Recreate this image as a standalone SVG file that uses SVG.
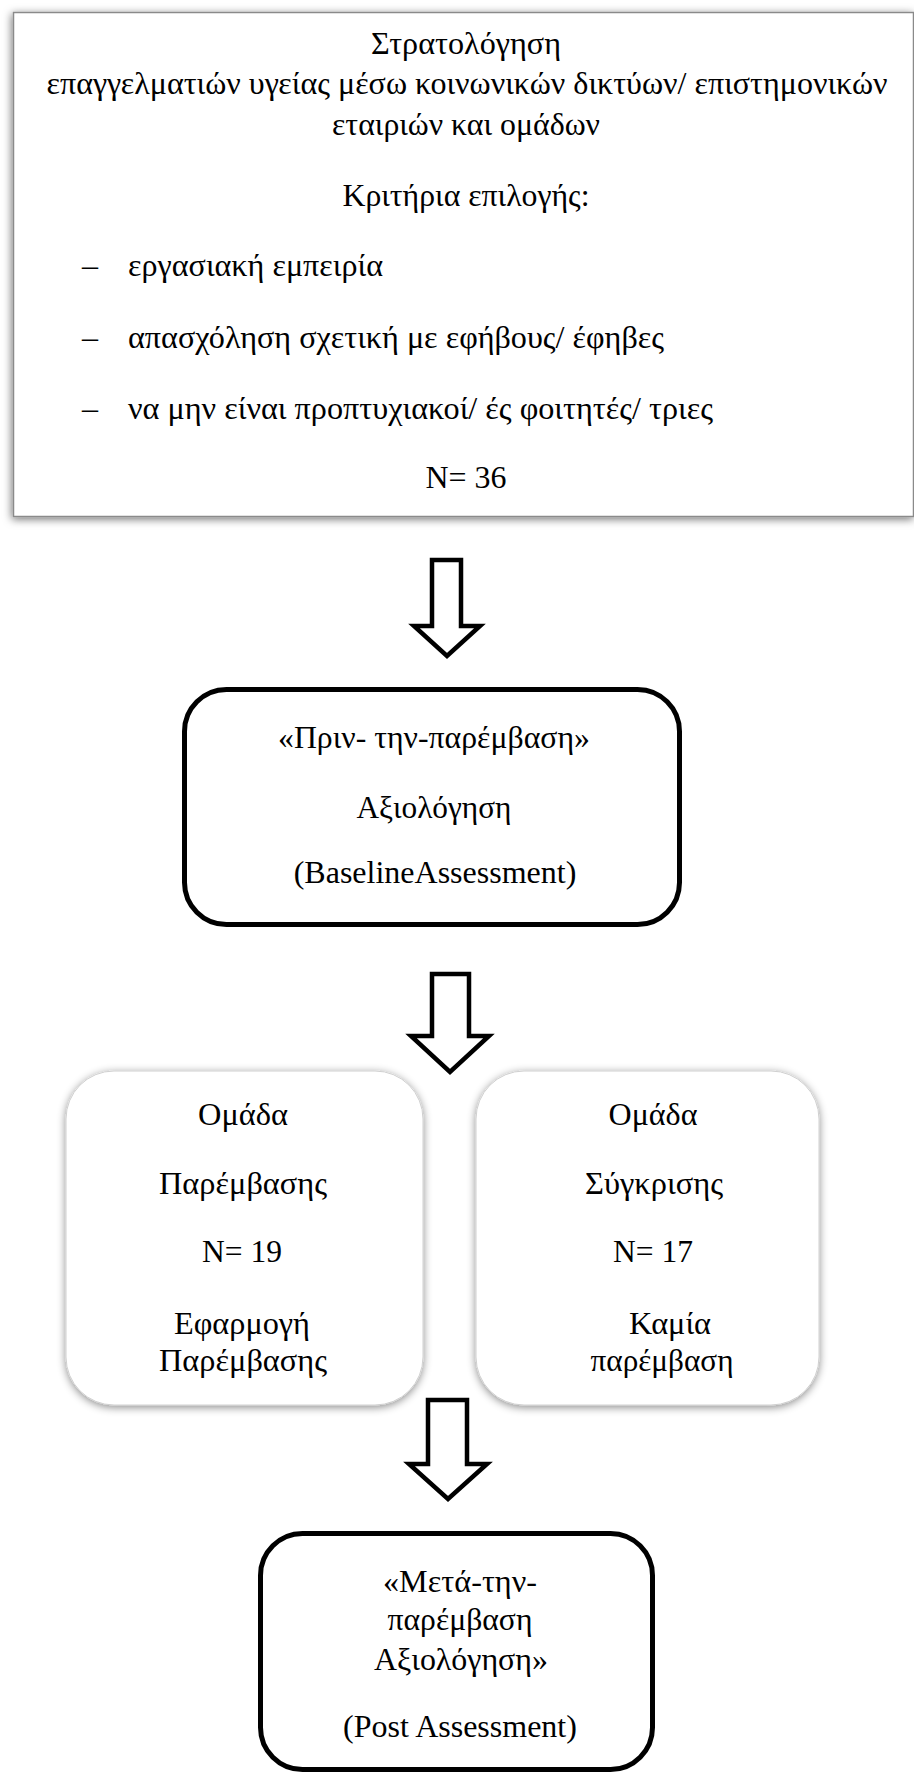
<svg xmlns="http://www.w3.org/2000/svg" width="914" height="1776" viewBox="0 0 914 1776">
<defs>
<filter id="shTop" x="-5%" y="-5%" width="110%" height="110%">
<feDropShadow dx="-1" dy="2" stdDeviation="4" flood-color="#000" flood-opacity="0.55"/>
</filter>
<filter id="shSoft" x="-10%" y="-10%" width="120%" height="120%">
<feDropShadow dx="0" dy="2" stdDeviation="4" flood-color="#000" flood-opacity="0.45"/>
</filter>
</defs>
<style>
text{font-family:"Liberation Serif","Noto Serif","DejaVu Serif","FreeSerif","Times New Roman",serif;font-size:32px;fill:#000}
.c{text-anchor:middle}
.box{fill:#fff;stroke:#000;stroke-width:5}
.soft{fill:#fff;stroke:#d0d0d0;stroke-width:1;filter:url(#shSoft)}
.arrow{fill:#fff;stroke:#000;stroke-width:4.5;stroke-linejoin:miter}
</style>
<rect width="914" height="1776" fill="#fff"/>

<g id="recruitment">
<rect x="13.5" y="12.5" width="900" height="504" fill="#fff" stroke="#8a8a8a" stroke-width="1.5" filter="url(#shTop)"/>
<text class="c" x="466" y="54" textLength="190" lengthAdjust="spacingAndGlyphs">Στρατολόγηση</text>
<text class="c" x="467" y="94" font-size="31" textLength="841" lengthAdjust="spacingAndGlyphs">επαγγελματιών υγείας μέσω κοινωνικών δικτύων/ επιστημονικών</text>
<text class="c" x="466" y="135" textLength="268" lengthAdjust="spacingAndGlyphs">εταιριών και ομάδων</text>
<text class="c" x="466" y="206" textLength="247" lengthAdjust="spacingAndGlyphs">Κριτήρια επιλογής:</text>
<text x="82" y="276">–</text>
<text x="128" y="276" textLength="255" lengthAdjust="spacingAndGlyphs">εργασιακή εμπειρία</text>
<text x="82" y="348">–</text>
<text x="128" y="348" textLength="536" lengthAdjust="spacingAndGlyphs">απασχόληση σχετική με εφήβους/ έφηβες</text>
<text x="82" y="419">–</text>
<text x="128" y="419" textLength="585" lengthAdjust="spacingAndGlyphs">να μην είναι προπτυχιακοί/ ές φοιτητές/ τριες</text>
<text class="c" x="466" y="488" textLength="81" lengthAdjust="spacingAndGlyphs">Ν= 36</text>
</g>

<g id="baseline">
<rect class="box" x="184.5" y="689.5" width="495" height="235" rx="42" ry="42"/>
<text class="c" x="434" y="748" textLength="312" lengthAdjust="spacingAndGlyphs">«Πριν- την-παρέμβαση»</text>
<text class="c" x="434" y="818" textLength="155" lengthAdjust="spacingAndGlyphs">Αξιολόγηση</text>
<text class="c" x="435" y="883">(BaselineAssessment)</text>
</g>

<g id="intervention">
<rect class="soft" x="66" y="1071" width="357" height="334" rx="48" ry="48"/>
<text class="c" x="243" y="1125" textLength="90" lengthAdjust="spacingAndGlyphs">Ομάδα</text>
<text class="c" x="243" y="1194" textLength="168" lengthAdjust="spacingAndGlyphs">Παρέμβασης</text>
<text class="c" x="242" y="1262" textLength="80" lengthAdjust="spacingAndGlyphs">Ν= 19</text>
<text class="c" x="242" y="1334" textLength="136" lengthAdjust="spacingAndGlyphs">Εφαρμογή</text>
<text class="c" x="243" y="1371" textLength="168" lengthAdjust="spacingAndGlyphs">Παρέμβασης</text>
</g>

<g id="comparison">
<rect class="soft" x="476" y="1071" width="343" height="334" rx="48" ry="48"/>
<text class="c" x="653" y="1125" textLength="89" lengthAdjust="spacingAndGlyphs">Ομάδα</text>
<text class="c" x="654" y="1194" textLength="138" lengthAdjust="spacingAndGlyphs">Σύγκρισης</text>
<text class="c" x="653" y="1262" textLength="80" lengthAdjust="spacingAndGlyphs">Ν= 17</text>
<text class="c" x="670" y="1334" textLength="82" lengthAdjust="spacingAndGlyphs">Καμία</text>
<text class="c" x="662" y="1371" textLength="143" lengthAdjust="spacingAndGlyphs">παρέμβαση</text>
</g>

<g id="post">
<rect class="box" x="260.5" y="1533.5" width="392" height="236" rx="42" ry="42"/>
<text class="c" x="460" y="1592" textLength="154" lengthAdjust="spacingAndGlyphs">«Μετά-την-</text>
<text class="c" x="460" y="1630" textLength="145" lengthAdjust="spacingAndGlyphs">παρέμβαση</text>
<text class="c" x="461" y="1670" textLength="174" lengthAdjust="spacingAndGlyphs">Αξιολόγηση»</text>
<text class="c" x="460" y="1737">(Post Assessment)</text>
</g>

<g id="connectors">
<polygon class="arrow" points="432,560 461,560 461,626 480,626 447,656 414,626 432,626"/>
<polygon class="arrow" points="432,974 469,974 469,1036 489,1036 450,1072 411,1036 432,1036"/>
<polygon class="arrow" points="428,1400 467,1400 467,1464 487,1464 448,1499 409,1464 428,1464"/>
</g>
</svg>
